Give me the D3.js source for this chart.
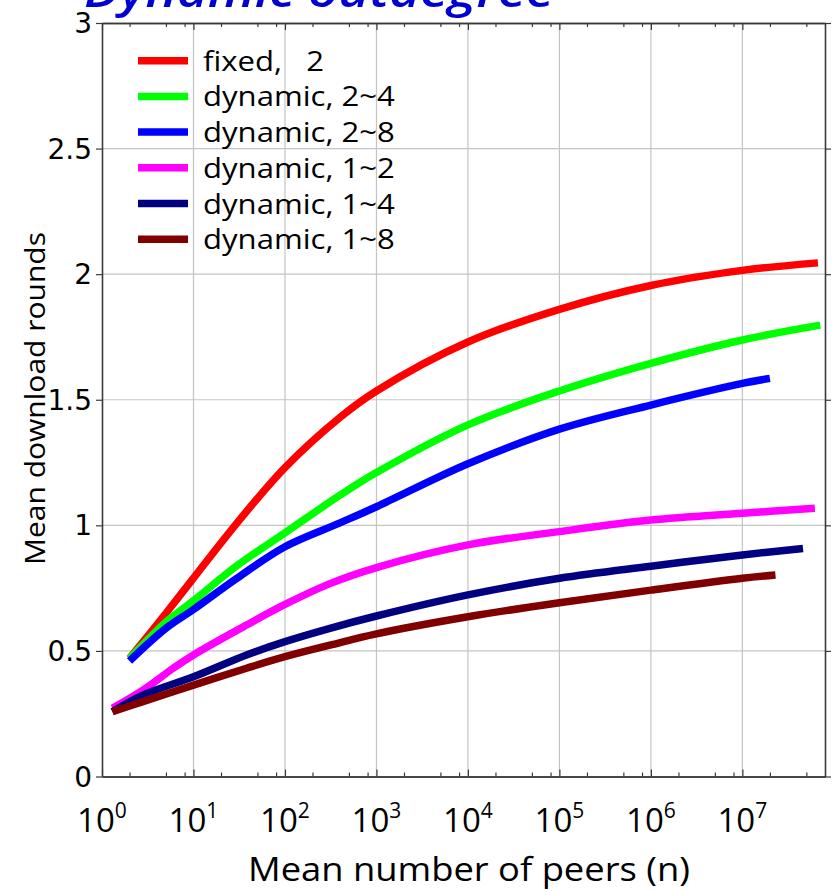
<!DOCTYPE html>
<html>
<head>
<meta charset="utf-8">
<script src="https://cdn.jsdelivr.net/npm/d3@7"></script>
<style>
  html, body { margin: 0; padding: 0; background: #fff; }
  svg { display: block; }
  text { white-space: pre; }
</style>
</head>
<body>
<svg id="chart" width="838" height="892"></svg>
<script>
// ---- data ----
const seriesNames = ["fixed,   2", "dynamic, 2~4", "dynamic, 2~8", "dynamic, 1~2", "dynamic, 1~4", "dynamic, 1~8"];
const seriesColors = ["#ff0000", "#00ff00", "#0000ff", "#ff00ff", "#000080", "#800000"];

const fixed2_n = [2, 5, 10, 30, 100, 400, 1e3, 1e4, 1e5, 1e6, 1e7, 6.7e7];
const fixed2_v = [0.47, 0.65, 0.79, 1.01, 1.23, 1.43, 1.535, 1.73, 1.86, 1.955, 2.015, 2.045];

const dyn24_n = [2, 5, 10, 30, 100, 400, 1e3, 1e4, 1e5, 1e6, 1e7, 7.1e7];
const dyn24_v = [0.47, 0.615, 0.70, 0.84, 0.97, 1.12, 1.21, 1.40, 1.535, 1.645, 1.738, 1.797];

const dyn28_n = [2, 5, 10, 30, 100, 400, 1e3, 1e4, 1e5, 1e6, 1e7, 2e7];
const dyn28_v = [0.46, 0.59, 0.665, 0.79, 0.915, 1.01, 1.074, 1.245, 1.383, 1.479, 1.565, 1.585];

const dyn12_n = [1.3, 2.8, 6, 10, 38, 100, 310, 1e3, 1e4, 1e5, 1e6, 1e7, 6.2e7];
const dyn12_v = [0.272, 0.344, 0.431, 0.484, 0.603, 0.685, 0.768, 0.832, 0.922, 0.975, 1.021, 1.048, 1.068];

const dyn14_n = [1.3, 2.8, 10, 38, 100, 310, 1e3, 1e4, 1e5, 1e6, 1e7, 4.6e7];
const dyn14_v = [0.258, 0.324, 0.397, 0.484, 0.537, 0.59, 0.639, 0.723, 0.789, 0.837, 0.882, 0.908];

const dyn18_n = [1.3, 2.8, 10, 38, 100, 310, 1e3, 1e4, 1e5, 1e6, 1e7, 2.3e7];
const dyn18_v = [0.258, 0.298, 0.364, 0.431, 0.477, 0.523, 0.568, 0.636, 0.692, 0.742, 0.789, 0.802];

const xTickExponents = [0, 1, 2, 3, 4, 5, 6, 7];
const yTicks = [0, 0.5, 1, 1.5, 2, 2.5, 3];
const yTickLabels = ["0", "0.5", "1", "1.5", "2", "2.5", "3"];
const minorMultipliers = [2, 5, 8];

const titleText = "Dynamic outdegree";
const xLabel = "Mean number of peers (n)";
const yLabel = "Mean download rounds";

// ---- layout ----
const plotLeft = 102, plotRight = 825, plotTop = 23, plotBottom = 776.5;
const svg = d3.select("#chart");

const x = d3.scaleLog().domain([1, 8e7]).range([plotLeft, plotRight]);
const y = d3.scaleLinear().domain([0, 3]).range([plotBottom, plotTop]);

const comicFallback = "'Open Sans', 'Noto Sans', sans-serif";

function stretch(sel, factor) {
  sel.each(function () {
    const w = this.getComputedTextLength();
    d3.select(this).attr("textLength", w * factor).attr("lengthAdjust", "spacingAndGlyphs");
  });
}

// title (cut off at top)
svg.append("text")
  .attr("x", 84).attr("y", 7)
  .attr("font-family", comicFallback)
  .attr("font-style", "italic")
  .attr("font-weight", 600)
  .attr("font-size", 46)
  .attr("fill", "#0000d0")
  .attr("textLength", 470)
  .attr("lengthAdjust", "spacingAndGlyphs")
  .text(titleText);

// grid
const g = svg.append("g");
g.selectAll(".vg").data(xTickExponents.slice(1)).join("line")
  .attr("x1", d => x(Math.pow(10, d))).attr("x2", d => x(Math.pow(10, d)))
  .attr("y1", plotTop).attr("y2", plotBottom)
  .attr("stroke", "#c4c4c4").attr("stroke-width", 1.2);
g.selectAll(".hg").data(yTicks.slice(1, -1)).join("line")
  .attr("y1", d => y(d)).attr("y2", d => y(d))
  .attr("x1", plotLeft).attr("x2", plotRight)
  .attr("stroke", "#c4c4c4").attr("stroke-width", 1.2);

// lines
const seriesN = [fixed2_n, dyn24_n, dyn28_n, dyn12_n, dyn14_n, dyn18_n];
const seriesV = [fixed2_v, dyn24_v, dyn28_v, dyn12_v, dyn14_v, dyn18_v];
const line = d3.line().x(d => x(d[0])).y(d => y(d[1])).curve(d3.curveCatmullRom.alpha(0.5));
seriesN.forEach((ns, i) => {
  const pts = ns.map((n, j) => [n, seriesV[i][j]]);
  svg.append("path").datum(pts)
    .attr("d", line)
    .attr("fill", "none")
    .attr("stroke", seriesColors[i])
    .attr("stroke-width", 7.5)
    .attr("stroke-linecap", "butt")
    .attr("stroke-linejoin", "round");
});

// axes frame
const axisColor = "#3a3a3a";
const minorVals = [];
xTickExponents.forEach(e => minorMultipliers.forEach(m => { const v = m * Math.pow(10, e); if (v < 8e7) minorVals.push(v); }));
const majorVals = xTickExponents.map(e => Math.pow(10, e));

const bottomAxis = d3.axisBottom(x).tickValues(majorVals).tickSizeInner(-7).tickSizeOuter(0).tickFormat("");
const bottomMinor = d3.axisBottom(x).tickValues(minorVals).tickSizeInner(-4).tickSizeOuter(0).tickFormat("");
const topAxis = d3.axisTop(x).tickValues(majorVals).tickSizeInner(-7).tickSizeOuter(0).tickFormat("");
const topMinor = d3.axisTop(x).tickValues(minorVals).tickSizeInner(-4).tickSizeOuter(0).tickFormat("");
const leftAxis = d3.axisLeft(y).tickValues(yTicks).tickSizeInner(6).tickSizeOuter(0).tickFormat("");
const rightAxis = d3.axisRight(y).tickValues(yTicks).tickSizeInner(6).tickSizeOuter(0).tickFormat("");

function styleAxis(sel) {
  sel.selectAll("path").attr("stroke", axisColor).attr("stroke-width", 1.6);
  sel.selectAll("line").attr("stroke", axisColor).attr("stroke-width", 1.2);
}
svg.append("g").attr("transform", `translate(0,${plotBottom})`).call(bottomAxis).call(styleAxis);
svg.append("g").attr("transform", `translate(0,${plotBottom})`).call(bottomMinor).call(styleAxis);
svg.append("g").attr("transform", `translate(0,${plotTop})`).call(topAxis).call(styleAxis);
svg.append("g").attr("transform", `translate(0,${plotTop})`).call(topMinor).call(styleAxis);
svg.append("g").attr("transform", `translate(${plotLeft},0)`).call(leftAxis).call(styleAxis);
svg.append("g").attr("transform", `translate(${plotRight},0)`).call(rightAxis).call(styleAxis);

// y tick labels
svg.selectAll(".ylab").data(yTicks).join("text")
  .attr("x", 92).attr("y", d => y(d) + 10)
  .attr("text-anchor", "end")
  .attr("font-family", "'DejaVu Sans', sans-serif")
  .attr("font-size", 28)
  .attr("fill", "#000")
  .text((d, i) => yTickLabels[i]);

// x tick labels
const xl = svg.selectAll(".xlab").data(xTickExponents).join("text")
  .attr("x", d => x(Math.pow(10, d)))
  .attr("y", 832)
  .attr("text-anchor", "middle")
  .attr("font-family", comicFallback)
  .attr("font-size", 33)
  .attr("fill", "#000");
xl.append("tspan").text("10");
xl.append("tspan").attr("font-size", 21).attr("dy", -14).text(d => String(d));

// axis titles
svg.append("text")
  .attr("x", 248).attr("y", 881)
  .attr("font-family", comicFallback)
  .attr("font-size", 32)
  .attr("fill", "#000")
  .attr("textLength", 442)
  .attr("lengthAdjust", "spacingAndGlyphs")
  .text(xLabel);

svg.append("text")
  .attr("transform", `translate(45,565) rotate(-90)`)
  .attr("font-family", comicFallback)
  .attr("font-size", 27)
  .attr("fill", "#000")
  .attr("textLength", 333)
  .attr("lengthAdjust", "spacingAndGlyphs")
  .text(yLabel);

// legend
const legendTop = 60.7, legendStep = 35.7;
const lg = svg.append("g");
seriesNames.forEach((name, i) => {
  const yy = legendTop + i * legendStep;
  lg.append("line")
    .attr("x1", 138).attr("x2", 188)
    .attr("y1", yy).attr("y2", yy)
    .attr("stroke", seriesColors[i]).attr("stroke-width", 7.5);
  lg.append("text")
    .attr("x", 203).attr("y", yy + 10)
    .attr("font-family", comicFallback)
    .attr("font-size", 28)
    .attr("fill", "#000")
    .text(name)
    .call(stretch, 1.11);
});
</script>
</body>
</html>
